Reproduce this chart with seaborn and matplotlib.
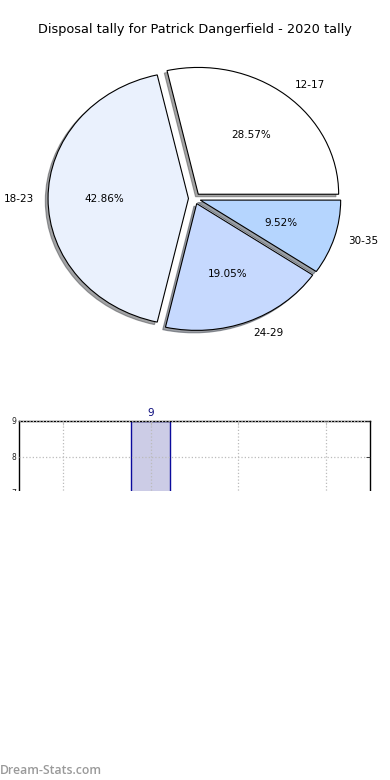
import matplotlib
matplotlib.use("Agg")
import matplotlib.pyplot as plt
import seaborn as sns
import numpy as np
from matplotlib.patches import Rectangle

# ---- data ----
age_groups = ["12-17", "18-23", "24-29", "30-35"]
age_counts = [6, 9, 4, 2]
pie_colors = ["#ffffff", "#eaf1fd", "#c6d9fe", "#b5d5fe"]
bar_positions = [1]
bar_values = [9]
title = "Disposal tally for Patrick Dangerfield - 2020 tally"

sns.set_theme(style="white")
plt.rcParams["font.family"] = ["DejaVu Sans"]
plt.rcParams.update({
    "xtick.direction": "in", "ytick.direction": "in",
    "xtick.top": True, "ytick.right": True,
})

fig = plt.figure(figsize=(3.9, 7.8), dpi=100)
fig.patch.set_facecolor("white")

# ---- pie ----
axp = fig.add_axes([19/390, 1-357/780, 351/390, 317/780])
wedges, texts, autotexts = axp.pie(
    age_counts, labels=age_groups, colors=pie_colors,
    explode=[0.043]*4, autopct="%1.2f%%", startangle=0,
    shadow={"ox": -0.014, "oy": -0.014},
    wedgeprops=dict(edgecolor="black", linewidth=0.8),
    textprops=dict(fontsize=7.5, color="black"))
axp.set_aspect("auto")
axp.set_xlim(-1.25, 1.25)
axp.set_ylim(-1.25, 1.25)
axp.axis("off")

fig.text(0.5, 1-30/780, title, ha="center", va="center", fontsize=9.3,
         color="black")

# ---- bar ----
axb = fig.add_axes([19/390, 1-563/780, 351/390, 142/780])
sns.barplot(x=bar_positions, y=bar_values, native_scale=True, width=0.45,
            color="#ccccE6", edgecolor="#0a0a9c", linewidth=1.0, ax=axb,
            saturation=1)
for p in axb.patches:
    p.set_facecolor("#ccccE6")
axb.set_xlim(-0.5, 3.5)
axb.set_ylim(5, 9)
axb.set_xticks([0, 1, 2, 3])
axb.set_xticklabels([])
axb.set_yticks([5, 6, 7, 8, 9])
axb.tick_params(axis="y", labelsize=5.5, length=3, width=0.6, colors="#222222", pad=2)
axb.tick_params(axis="x", length=3, width=0.6, colors="#bbbbbb")
axb.grid(True, linestyle=":", color="#bbbbbb", linewidth=0.9)
axb.set_axisbelow(False)
for s in axb.spines.values():
    s.set_color("black")
    s.set_linewidth(1.0)
axb.bar_label(axb.containers[0], color="#0a0a7c", fontsize=7.5, padding=2)
axb.set_xlabel("")
axb.set_ylabel("")

# crop region (white cover)
fig.add_artist(Rectangle((0, 0), 1, 1-491/780, transform=fig.transFigure,
                         facecolor="white", edgecolor="none", zorder=10))
fig.text(0.0, 1-770/780, "Dream-Stats.com", ha="left", va="center",
         fontsize=8.8, color="#9a9a9a", fontweight="semibold",
         family=["Open Sans", "DejaVu Sans"], zorder=11)

fig.savefig("out.png", dpi=100, facecolor="white")
